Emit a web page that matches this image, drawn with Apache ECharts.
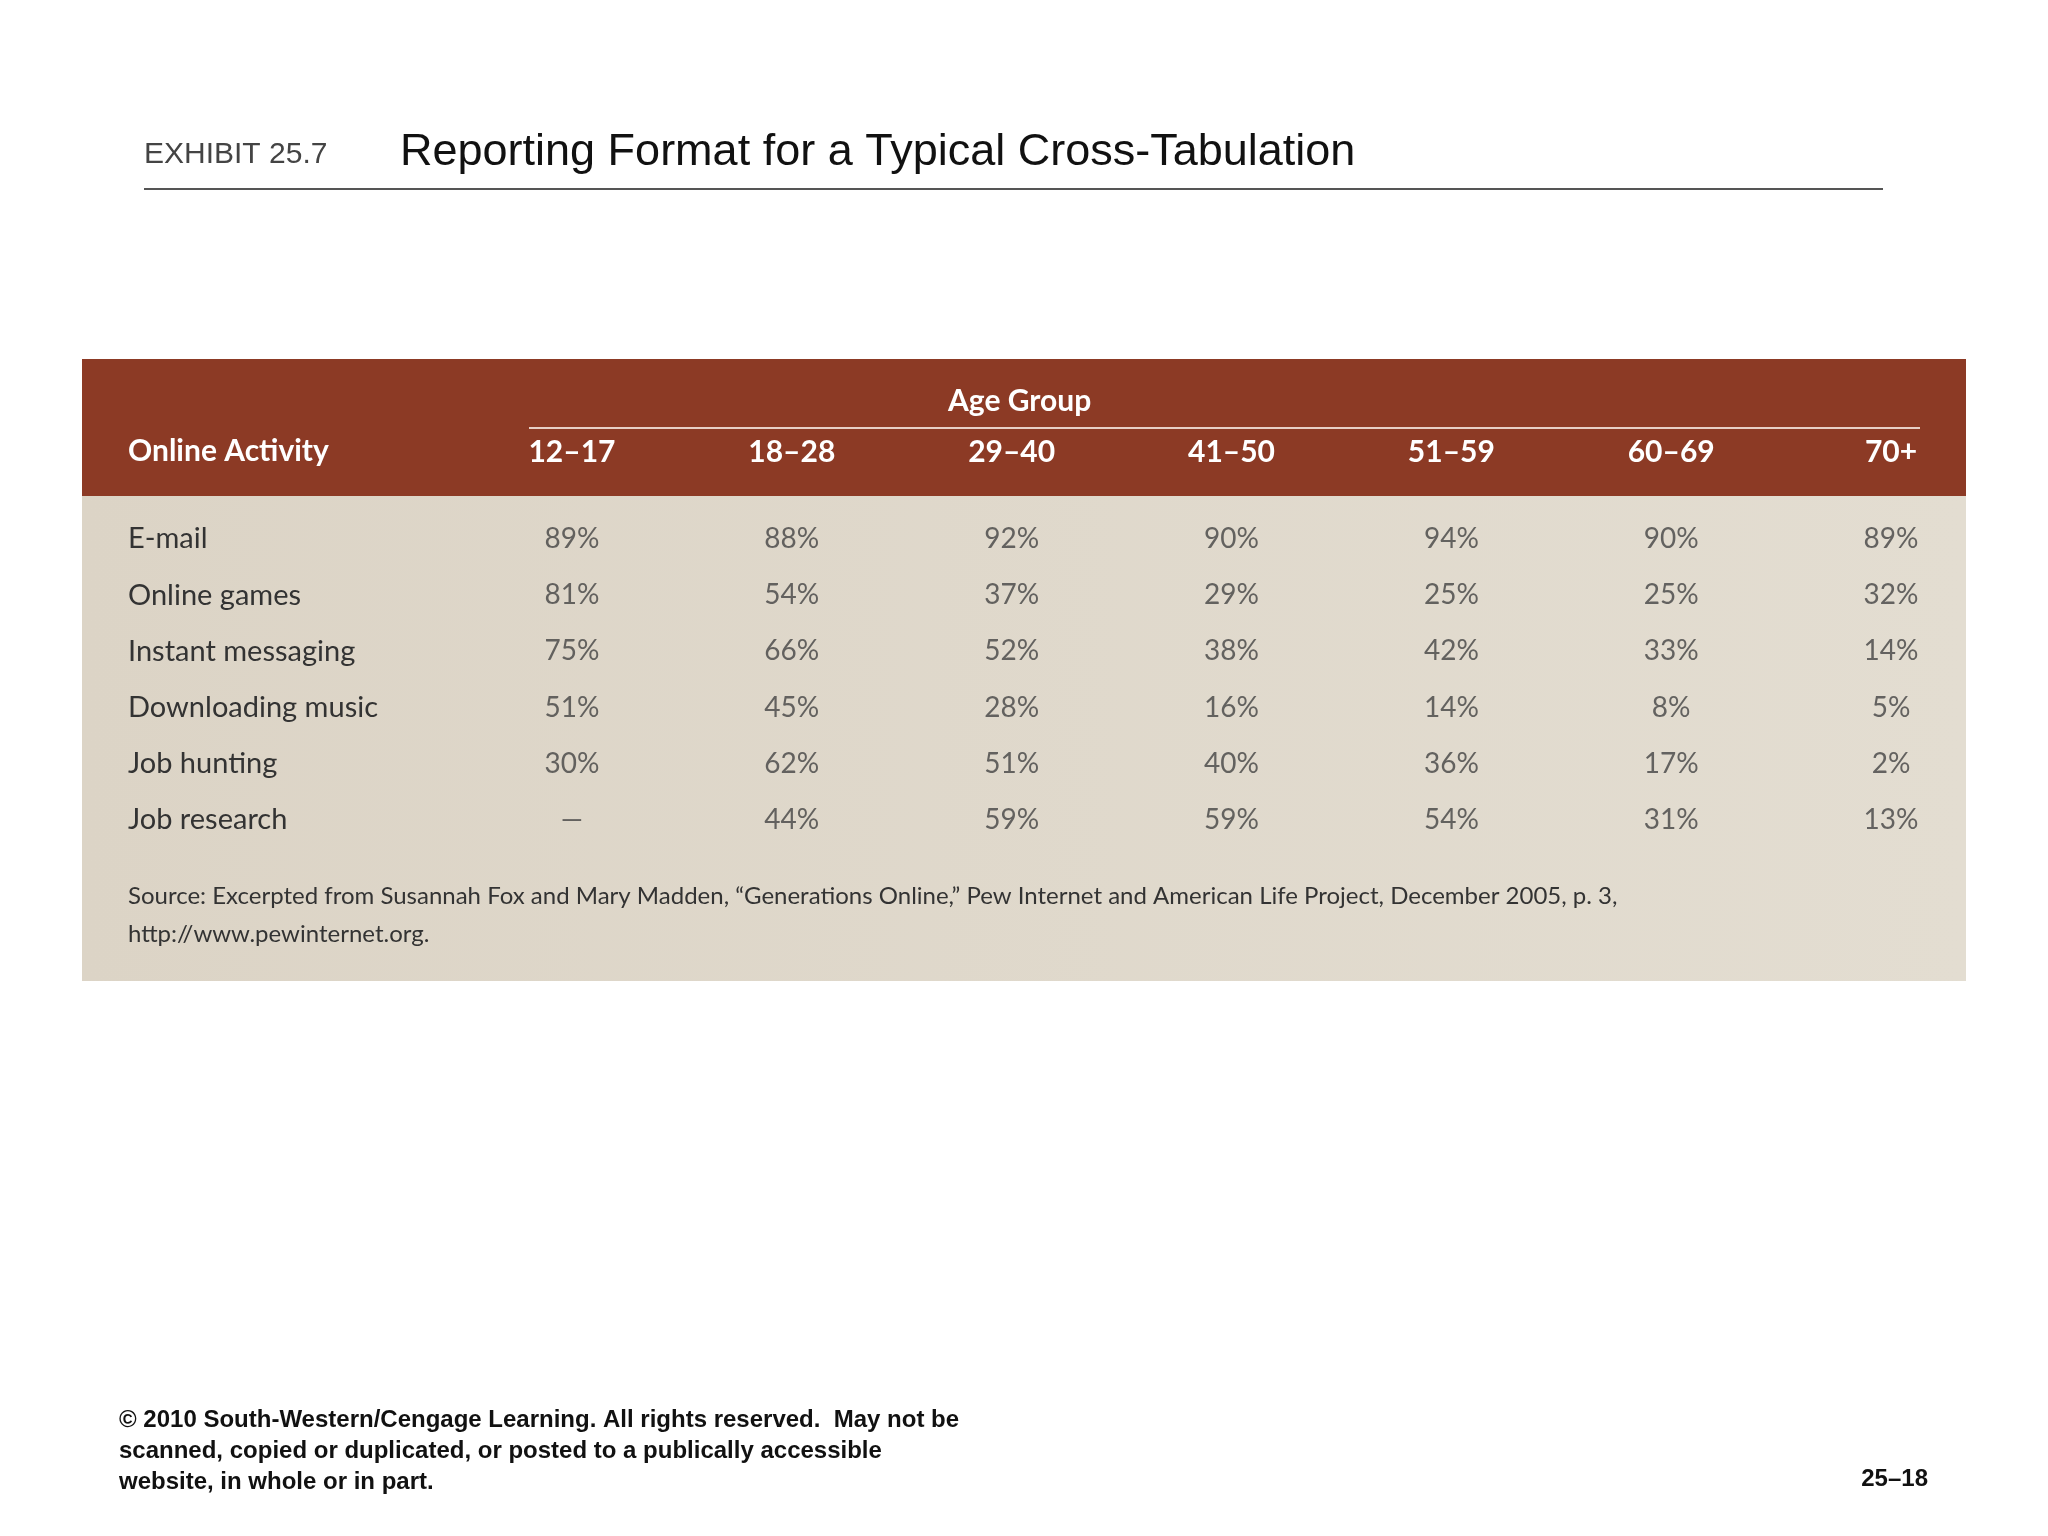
<!DOCTYPE html>
<html><head><meta charset="utf-8">
<script src="https://cdn.jsdelivr.net/npm/echarts@6/dist/echarts.min.js"></script>
<style>html,body{margin:0;padding:0;background:#fff}#c{width:2048px;height:1536px}</style>
</head><body><div id="c"></div>
<script>
const ageGroups = ['12–17','18–28','29–40','41–50','51–59','60–69','70+'];
const activities = ['E-mail','Online games','Instant messaging','Downloading music','Job hunting','Job research'];
const email = [89,88,92,90,94,90,89];
const onlineGames = [81,54,37,29,25,25,32];
const instantMessaging = [75,66,52,38,42,33,14];
const downloadingMusic = [51,45,28,16,14,8,5];
const jobHunting = [30,62,51,40,36,17,2];
const jobResearch = [null,44,59,59,54,31,13];
const rows = [email,onlineGames,instantMessaging,downloadingMusic,jobHunting,jobResearch];

const cells = [];
rows.forEach((r,ri)=>r.forEach((v,ci)=>cells.push({value:[ci,ri,v==null?'—':v]})));

const chart = echarts.init(document.getElementById('c'));
const tf = 'Lato, "Open Sans", sans-serif';
chart.setOption({
  backgroundColor:'#fff',
  animation:false,
  graphic:[
    {type:'text',left:144,top:140,style:{text:'EXHIBIT 25.7',font:'30px "Liberation Sans", Arial',fill:'#444'}},
    {type:'text',left:400,top:130,style:{text:'Reporting Format for a Typical Cross-Tabulation',font:'45px "Liberation Sans", Arial',fill:'#111'}},
    {type:'rect',shape:{x:144,y:188,width:1739,height:2},style:{fill:'#555'}},
    {type:'rect',z:-10,shape:{x:82,y:359,width:1884,height:622},style:{fill:new echarts.graphic.LinearGradient(0,0,1,0,[{offset:0,color:'#dcd4c6'},{offset:1,color:'#e3ddd1'}])}},
    {type:'rect',z:-9,shape:{x:82,y:359,width:1884,height:137},style:{fill:'#8c3a25'}},
    {type:'text',left:948,top:386,style:{text:'Age Group',font:'bold 30px '+tf,fill:'#fff'}},
    {type:'rect',shape:{x:529,y:427,width:1391,height:2},style:{fill:'#e8cfc6'}},
    {type:'text',left:128,top:436,style:{text:'Online Activity',font:'bold 30px '+tf,fill:'#fff'}},
    {type:'text',left:128,top:877,style:{text:'Source: Excerpted from Susannah Fox and Mary Madden, “Generations Online,” Pew Internet and American Life Project, December 2005, p. 3,\nhttp://www.pewinternet.org.',font:'24px '+tf,fill:'#333',lineHeight:38}},
    {type:'text',left:119,top:1405,style:{text:'© 2010 South-Western/Cengage Learning. All rights reserved.  May not be\nscanned, copied or duplicated, or posted to a publically accessible\nwebsite, in whole or in part.',font:'bold 24px "Liberation Sans", Arial',fill:'#111',lineHeight:31}},
    {type:'text',right:120,top:1467,style:{text:'25–18',font:'bold 24px "Liberation Sans", Arial',fill:'#111'}}
  ],
  grid:{left:462,right:47,top:511,bottom:688},
  xAxis:{type:'category',data:ageGroups,position:'top',axisLine:{show:false},axisTick:{show:false},splitLine:{show:false},
    axisLabel:{margin:44,color:'#fff',fontWeight:'bold',fontSize:30,fontFamily:tf}},
  yAxis:{type:'category',data:activities,inverse:true,axisLine:{show:false},axisTick:{show:false},splitLine:{show:false},
    axisLabel:{align:'left',margin:334,color:'#333',fontSize:29,fontFamily:tf}},
  series:[{type:'scatter',data:cells,symbolSize:2,itemStyle:{color:'rgba(0,0,0,0)'},
    label:{show:true,position:'inside',color:'#444',fontSize:28,fontFamily:tf,
      formatter:p=>p.value[2]==='—'?'—':p.value[2]+'%'}}]
});
</script></body></html>
